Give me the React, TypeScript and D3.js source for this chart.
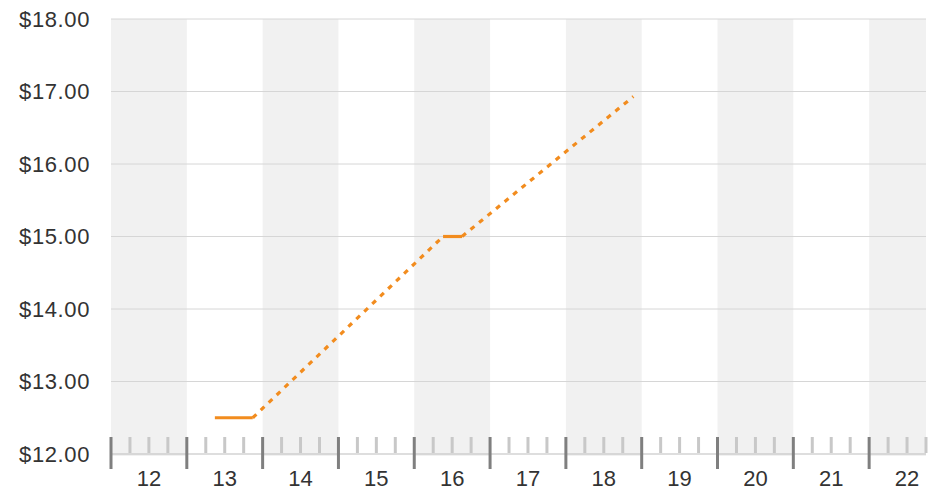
import React from "react";
import * as d3 from "d3";

const yTicks = [12, 13, 14, 15, 16, 17, 18];
const xCategories = [12, 13, 14, 15, 16, 17, 18, 19, 20, 21, 22];
const pointX = [13.37, 13.87, 16.38, 16.63, 18.89];
const pointY = [12.5, 12.5, 15.0, 15.0, 16.93];
const segmentDashed = [false, true, false, true];

const W = 943;
const H = 492;
const left = 111;
const right = 926;
const top = 19;
const bottom = 454;

export default function App() {
  const x = d3.scaleLinear().domain([12, 22.75]).range([left, right]);
  const y = d3.scaleLinear().domain([12, 18]).range([bottom, top]);
  const line = d3.line<[number, number]>().x((d) => x(d[0])).y((d) => y(d[1]));
  const minor = d3.range(12, 22.76, 0.25).filter((v) => Math.abs(v - Math.round(v)) > 1e-6);
  const font = "'Liberation Sans', Arial, Helvetica, sans-serif";
  return (
    <svg width={W} height={H} style={{ position: "absolute", left: 0, top: 0 }}>
      {xCategories.map((c, i) =>
        i % 2 === 0 ? (
          <rect key={c} x={x(c)} y={top} width={Math.min(x(c + 1), right) - x(c)} height={bottom - top + 2} fill="#f1f1f1" />
        ) : null
      )}
      {yTicks.map((t) => (
        <g key={t}>
          <line x1={left} x2={right} y1={y(t)} y2={y(t)} stroke={t === 12 ? "#bdbdbd" : "#d6d6d6"} strokeWidth={1} />
          <text x={90} y={y(t)} dy="0.36em" textAnchor="end" fontFamily={font} fontSize={22} letterSpacing={0.6} fill="#333">
            {d3.format("$.2f")(t)}
          </text>
        </g>
      ))}
      {minor.map((v) => (
        <line key={v} x1={x(v)} x2={x(v)} y1={437} y2={453} stroke="#c8c8c8" strokeWidth={3} />
      ))}
      {xCategories.map((c) => (
        <line key={c} x1={x(c)} x2={x(c)} y1={437} y2={469} stroke="#7f7f7f" strokeWidth={3} />
      ))}
      {xCategories.map((c) => (
        <text key={c} x={x(c + 0.5)} y={486} textAnchor="middle" fontFamily={font} fontSize={22} fill="#333">
          {c}
        </text>
      ))}
      {segmentDashed.map((dashed, i) => (
        <path
          key={i}
          d={line([
            [pointX[i], pointY[i]],
            [pointX[i + 1], pointY[i + 1]],
          ]) as string}
          fill="none"
          stroke="#f28c1e"
          strokeWidth={3.2}
          strokeDasharray={dashed ? "5,6" : undefined}
        />
      ))}
    </svg>
  );
}
